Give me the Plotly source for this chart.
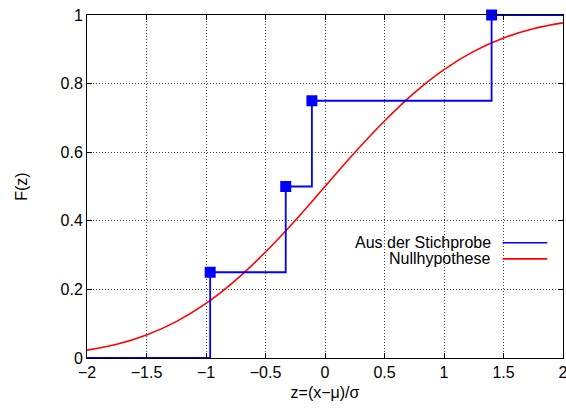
import plotly.graph_objects as go

# Empirical (sample) CDF step points
sample_z = [-0.965, -0.33, -0.11, 1.40]
sample_F = [0.25, 0.50, 0.75, 1.00]

# Null hypothesis curve
null_z = [-2.0, -1.75, -1.5, -1.25, -1.0, -0.75, -0.5, -0.25, 0.0,
          0.25, 0.5, 0.75, 1.0, 1.25, 1.5, 1.75, 2.0]
null_F = [0.023, 0.040, 0.067, 0.106, 0.159, 0.227, 0.309, 0.401, 0.500,
          0.599, 0.691, 0.773, 0.841, 0.894, 0.933, 0.960, 0.977]

x_ticks = [-2, -1.5, -1, -0.5, 0, 0.5, 1, 1.5, 2]
x_ticklabels = ["\u22122", "\u22121.5", "\u22121", "\u22120.5", "0", "0.5", "1", "1.5", "2"]
y_ticks = [0, 0.2, 0.4, 0.6, 0.8, 1]
y_ticklabels = ["0", "0.2", "0.4", "0.6", "0.8", "1"]

legend_labels = ["Aus der Stichprobe", "Nullhypothese"]
blue = "#0000ff"
red = "#ff0000"
FONT = "Liberation Sans, Arial, sans-serif"
FS = 16

step_x = [x_ticks[0]] + sample_z + [x_ticks[-1]]
step_y = [0] + sample_F + [sample_F[-1]]

fig = go.Figure()
fig.add_trace(go.Scatter(x=null_z, y=null_F, mode="lines",
                         line=dict(color=red, width=1.6, shape="spline"),
                         name=legend_labels[1], showlegend=False, cliponaxis=False))
fig.add_trace(go.Scatter(x=step_x, y=step_y, mode="lines",
                         line=dict(color=blue, width=1.8, shape="hv"),
                         name=legend_labels[0], showlegend=False, cliponaxis=False))
fig.add_trace(go.Scatter(x=sample_z, y=sample_F, mode="markers",
                         marker=dict(color=blue, size=11, symbol="square", line=dict(width=0)),
                         showlegend=False, cliponaxis=False))

axis_common = dict(showline=True, linecolor="black", linewidth=1, mirror="allticks",
                   ticks="inside", ticklen=5, tickcolor="black", tickwidth=1,
                   showgrid=True, gridcolor="#444444", griddash="1px,2px", gridwidth=1,
                   zeroline=False, automargin=False, ticklabeloverflow="allow",
                   tickfont=dict(family=FONT, size=FS, color="black"))

fig.update_xaxes(range=[-2, 2], tickvals=x_ticks, ticktext=x_ticklabels,
                 title=dict(text="z=(x\u2212\u03bc)/\u03c3", font=dict(family=FONT, size=FS, color="black"),
                            standoff=6),
                 **axis_common)
fig.update_yaxes(range=[0, 1], tickvals=y_ticks, ticktext=y_ticklabels,
                 title=dict(text="F(z)", font=dict(family=FONT, size=FS, color="black"),
                            standoff=28),
                 **axis_common)

# gnuplot-style legend: right-justified text, sample line to the right
leg_y = [0.336, 0.289]
colors = [blue, red]
for lab, yy, c in zip(legend_labels, leg_y, colors):
    fig.add_annotation(x=0.852, y=yy, xref="paper", yref="paper", text=lab,
                       showarrow=False, xanchor="right", yanchor="middle",
                       font=dict(family=FONT, size=FS, color="black"))
    fig.add_shape(type="line", xref="paper", yref="paper",
                  x0=0.873, x1=0.967, y0=yy, y1=yy, line=dict(color=c, width=1.6))

fig.update_layout(width=566, height=409, margin=dict(l=87, r=3, t=15, b=51),
                  plot_bgcolor="white", paper_bgcolor="white",
                  font=dict(family=FONT, size=FS, color="black"))

fig.write_html("out.html", config={"displayModeBar": False},
               post_script="document.body.style.margin='0';document.body.style.padding='0';"
                           "document.documentElement.style.overflow='hidden';")
